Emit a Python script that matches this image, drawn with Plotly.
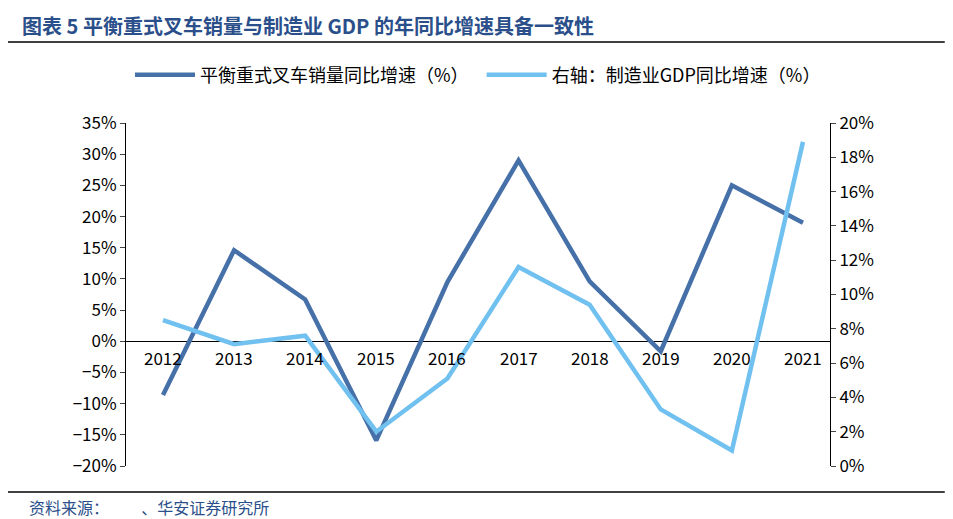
import plotly.graph_objects as go

years = ["2012", "2013", "2014", "2015", "2016", "2017", "2018", "2019", "2020", "2021"]
forklift = [-8.6, 14.6, 6.7, -15.9, 9.5, 29.0, 9.6, -1.6, 25.0, 19.0]
mfg_gdp = [8.5, 7.1, 7.6, 2.0, 5.1, 11.6, 9.4, 3.3, 0.9, 18.9]

dark = "#4670a8"
light = "#70c0f0"
fnt = "Noto Sans CJK SC"

fig = go.Figure()
fig.add_trace(go.Scatter(x=list(range(len(years))), y=forklift, name="平衡重式叉车销量同比增速（%）  ",
                         mode="lines", line=dict(color=dark, width=4.5)))
fig.add_trace(go.Scatter(x=list(range(len(years))), y=mfg_gdp, name="右轴：制造业GDP同比增速（%）",
                         mode="lines", line=dict(color=light, width=4.5), yaxis="y2"))

for i, yr in enumerate(years):
    fig.add_annotation(x=i, y=0, xref="x", yref="y", text=yr, showarrow=False,
                       yshift=-16, font=dict(size=17, color="#000", family=fnt))

fig.add_annotation(x=-0.15, y=1.285, xref="paper", yref="paper", xanchor="left", yanchor="middle",
                   text="<b>图表 5 平衡重式叉车销量与制造业 GDP 的年同比增速具备一致性</b>",
                   showarrow=False, font=dict(size=20, color="#2a4f8a", family=fnt))
fig.add_annotation(x=-0.14, y=-0.12, xref="paper", yref="paper", xanchor="left", yanchor="middle",
                   text="资料来源：         、华安证券研究所", showarrow=False,
                   font=dict(size=16, color="#2a4f8a", family=fnt))
fig.add_shape(type="line", xref="paper", yref="paper", x0=-0.172, x1=1.163, y0=1.236, y1=1.236,
              line=dict(color="#000", width=1.5))
fig.add_shape(type="line", xref="paper", yref="paper", x0=-0.172, x1=1.163, y0=-0.076, y1=-0.076,
              line=dict(color="#000", width=1.5))

fig.update_layout(
    width=953, height=519, plot_bgcolor="white", paper_bgcolor="white",
    margin=dict(l=118, r=131, t=115, b=61),
    font=dict(family=fnt, size=17, color="#000"),
    legend=dict(orientation="h", x=0.5, xanchor="center", y=1.14, yanchor="middle",
                font=dict(size=18), itemwidth=60),
    xaxis=dict(showticklabels=False, showline=False, showgrid=False, zeroline=False,
               range=[-0.52, 9.38]),
    yaxis=dict(range=[-20, 35], dtick=5, ticksuffix="%", showgrid=False, showline=True,
               linecolor="#000", ticks="outside", ticklen=5, zeroline=True,
               zerolinecolor="#000", zerolinewidth=1),
    yaxis2=dict(range=[0, 20], dtick=2, ticksuffix="%", overlaying="y", side="right",
                showgrid=False, showline=True, linecolor="#000", ticks="outside",
                ticklen=5, zeroline=False),
)
fig.write_html("out.html")
